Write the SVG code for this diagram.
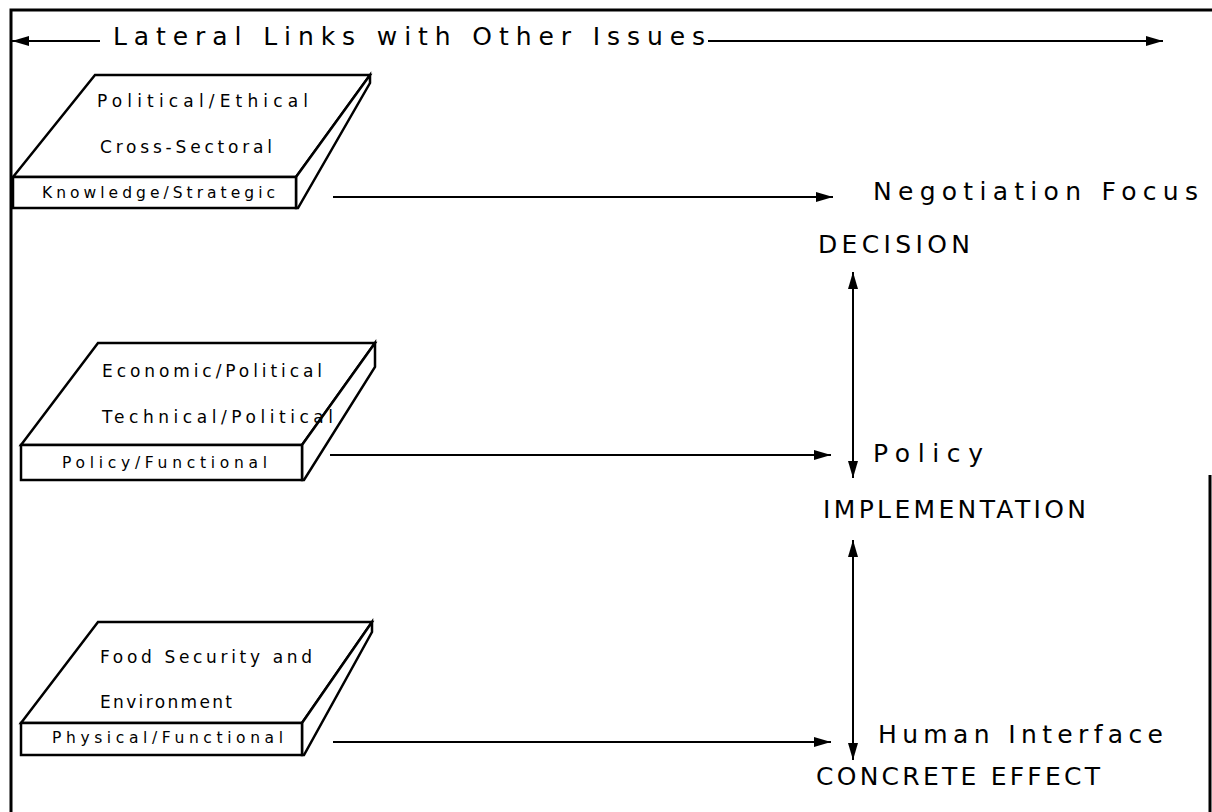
<svg xmlns="http://www.w3.org/2000/svg" width="1212" height="812" viewBox="0 0 1212 812">
<style>
.frame{fill:none;stroke:#000;stroke-width:3}
.box{fill:#fff;stroke:#000;stroke-width:2.5;stroke-linejoin:miter}
.conn{fill:none;stroke:#000;stroke-width:2}
text{font-family:"DejaVu Sans","Liberation Sans",Arial,sans-serif;fill:#000}
.big{font-size:25px}
.mid{font-size:17px}
.small{font-size:15.5px}
</style>
<defs>
<marker id="ah" markerUnits="userSpaceOnUse" markerWidth="18" markerHeight="12" refX="17" refY="6" orient="auto-start-reverse">
<path d="M0,1 L17,6 L0,11 z" fill="#000"/>
</marker>
</defs>
<rect width="1212" height="812" fill="#fff"/>
<g id="frame">
<path class="frame" d="M11,812 L11,10 L1212,10"/>
<path class="frame" d="M1210,475 L1210,812"/>
</g>
<g id="title">
<text class="big" x="113" y="45" textLength="592" lengthAdjust="spacing">Lateral Links with Other Issues</text>
</g>
<g id="box-knowledge">
<polygon class="box" points="13,177 95,75 370,75 296,177"/>
<polygon class="box" points="296,177 370,75 370,83 298,208 296,208"/>
<rect class="box" x="13" y="177" width="283" height="31"/>
<text class="mid" x="97" y="107" textLength="211" lengthAdjust="spacing">Political/Ethical</text>
<text class="mid" x="100" y="153" textLength="172" lengthAdjust="spacing">Cross-Sectoral</text>
<text class="small" x="42" y="198" textLength="233" lengthAdjust="spacing">Knowledge/Strategic</text>
</g>
<g id="box-policy">
<polygon class="box" points="21,445 98,343 375,343 302,445"/>
<polygon class="box" points="302,445 375,343 375,367 304,480 302,480"/>
<rect class="box" x="21" y="445" width="281" height="35"/>
<text class="mid" x="102" y="377" textLength="220" lengthAdjust="spacing">Economic/Political</text>
<text class="mid" x="102" y="423" textLength="231" lengthAdjust="spacing">Technical/Political</text>
<text class="small" x="62" y="468" textLength="205" lengthAdjust="spacing">Policy/Functional</text>
</g>
<g id="box-physical">
<polygon class="box" points="21,723 98,622 372,622 302,723"/>
<polygon class="box" points="302,723 372,622 372,632 304,755 302,755"/>
<rect class="box" x="21" y="723" width="281" height="32"/>
<text class="mid" x="100" y="663" textLength="212" lengthAdjust="spacing">Food Security and</text>
<text class="mid" x="100" y="708" textLength="132" lengthAdjust="spacing">Environment</text>
<text class="small" x="52" y="743" textLength="231" lengthAdjust="spacing">Physical/Functional</text>
</g>
<g id="levels">
<text class="big" x="873" y="200" textLength="325" lengthAdjust="spacing">Negotiation Focus</text>
<text class="big" x="818" y="253" textLength="152" lengthAdjust="spacing">DECISION</text>
<text class="big" x="873" y="462" textLength="110" lengthAdjust="spacing">Policy</text>
<text class="big" x="823" y="518" textLength="263" lengthAdjust="spacing">IMPLEMENTATION</text>
<text class="big" x="878" y="743" textLength="285" lengthAdjust="spacing">Human Interface</text>
<text class="big" x="816" y="785" textLength="284" lengthAdjust="spacing">CONCRETE EFFECT</text>
</g>
<g id="connectors">
<path class="conn" d="M100,41 L12,41" marker-end="url(#ah)"/>
<path class="conn" d="M708,41 L1163,41" marker-end="url(#ah)"/>
<path class="conn" d="M333,197 L833,197" marker-end="url(#ah)"/>
<path class="conn" d="M330,455 L831,455" marker-end="url(#ah)"/>
<path class="conn" d="M333,742 L831,742" marker-end="url(#ah)"/>
<path class="conn" d="M853,272 L853,478" marker-start="url(#ah)" marker-end="url(#ah)"/>
<path class="conn" d="M853,540 L853,760" marker-start="url(#ah)" marker-end="url(#ah)"/>
</g>
</svg>
